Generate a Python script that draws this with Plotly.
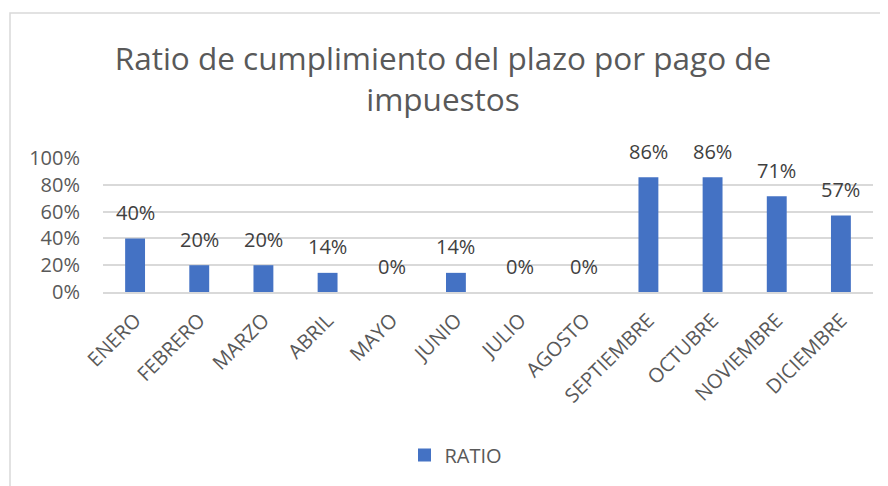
"""
Ratio de cumplimiento del plazo por pago de impuestos
"""

import plotly.graph_objects as go

meses = ['ENERO', 'FEBRERO', 'MARZO', 'ABRIL', 'MAYO', 'JUNIO', 'JULIO',
         'AGOSTO', 'SEPTIEMBRE', 'OCTUBRE', 'NOVIEMBRE', 'DICIEMBRE']
ratio = [0.40, 0.20, 0.20, 0.1429, 0.0, 0.1429, 0.0,
         0.0, 0.8571, 0.8571, 0.7143, 0.5714]
y_ticks = [0, 0.2, 0.4, 0.6, 0.8, 1.0]

W, H = 888, 486
OFF = 8  # margen del body de la pagina
L, R, T, B = 103 - OFF, 23, 158 - OFF, 202
FONT = 'Open Sans'
GRIS = '#595959'
AZUL = '#4472C4'

fig = go.Figure()
fig.add_trace(go.Bar(
    x=meses,
    y=ratio,
    name='RATIO',
    marker=dict(color=AZUL, line=dict(width=0)),
    showlegend=False
))
# entrada de leyenda con un cuadrado mas grande
fig.add_trace(go.Scatter(
    x=[None], y=[None], mode='markers', name='RATIO',
    marker=dict(symbol='square', size=13, color=AZUL),
    showlegend=True
))

# etiquetas de datos encima de cada barra
for mes, val in zip(meses, ratio):
    fig.add_annotation(
        x=mes, y=val, text=f'{val:.0%}', showarrow=False,
        yanchor='middle', yshift=26,
        font=dict(family=FONT, size=20, color='#404040')
    )

# borde del grafico
px_w = W - L - R
px_h = H - T - B
fig.add_shape(
    type='rect', xref='paper', yref='paper',
    x0=(10 - OFF - L) / px_w, x1=(W + 20 - L) / px_w,
    y0=(H - B - (H + 20)) / px_h, y1=(H - B - (13 - OFF)) / px_h,
    line=dict(color='#d9d9d9', width=1.5), layer='below'
)

fig.update_layout(
    width=W, height=H,
    margin=dict(l=L, r=R, t=T, b=B, autoexpand=False),
    paper_bgcolor='white',
    plot_bgcolor='white',
    bargap=0.69,
    title=dict(
        text='Ratio de cumplimiento del plazo por pago de<br>impuestos',
        x=(443 - OFF) / W, xanchor='center',
        y=1 - 62 / H, yref='container', yanchor='middle',
        font=dict(family=FONT, size=31.5, color=GRIS)
    ),
    legend=dict(
        orientation='h', x=(456 - OFF - L) / px_w, xanchor='center',
        y=1 - (455 - OFF) / H, yref='container', yanchor='middle',
        font=dict(family=FONT, size=20, color=GRIS),
        itemwidth=30
    ),
    font=dict(family=FONT, color=GRIS)
)
fig.update_yaxes(
    range=[0, 1.0],
    tickvals=y_ticks,
    tickformat='.0%',
    showgrid=True, gridcolor='#d9d9d9', gridwidth=1.5,
    zeroline=False,
    showline=False,
    automargin=False,
    ticklabelstandoff=22,
    tickfont=dict(family=FONT, size=20, color=GRIS)
)
fig.update_xaxes(
    tickangle=-45,
    showline=True, linecolor='#d9d9d9', linewidth=1.5,
    ticks='',
    automargin=False,
    ticklabelstandoff=7,
    tickfont=dict(family=FONT, size=20, color=GRIS)
)

fig.write_html("out.html")
